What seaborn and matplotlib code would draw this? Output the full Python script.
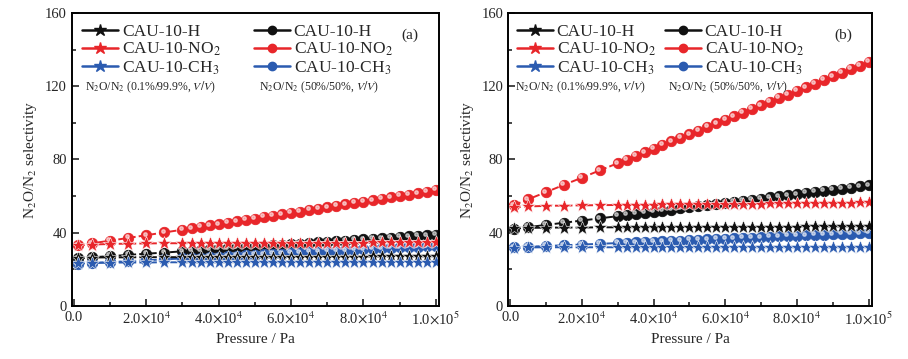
import numpy as np
import pandas as pd
import matplotlib
matplotlib.use("Agg")
import matplotlib.pyplot as plt
import matplotlib.transforms as mtransforms
from matplotlib.lines import Line2D
import seaborn as sns

# pressure points (Pa)
pressure = [1000, 5000, 10000, 15000, 20000, 25000, 30000, 32500, 35000, 37500,
            40000, 42500, 45000, 47500, 50000, 52500, 55000, 57500, 60000, 62500,
            65000, 67500, 70000, 72500, 75000, 77500, 80000, 82500, 85000, 87500,
            90000, 92500, 95000, 97500, 100000]

# (a) stars: N2O/N2 0.1%/99.9%
a_h_low = [26.3, 26.4, 26.5, 26.5, 26.6, 26.6, 26.6, 26.6, 26.6, 26.7, 26.7, 26.7,
           26.7, 26.7, 26.7, 26.8, 26.8, 26.8, 26.8, 26.8, 26.8, 26.9, 26.9, 26.9,
           26.9, 26.9, 26.9, 27.0, 27.0, 27.0, 27.0, 27.0, 27.0, 27.1, 27.1]
a_no2_low = [33.2, 33.5, 33.8, 34.0, 34.1, 34.2, 34.2, 34.3, 34.3, 34.3, 34.3, 34.4,
             34.4, 34.4, 34.4, 34.4, 34.5, 34.5, 34.5, 34.5, 34.5, 34.5, 34.6, 34.6,
             34.6, 34.6, 34.6, 34.7, 34.7, 34.7, 34.7, 34.7, 34.8, 34.8, 34.8]
a_ch3_low = [23.3, 23.5, 23.6, 23.7, 23.7, 23.8, 23.8, 23.8, 23.8, 23.8, 23.8, 23.9,
             23.9, 23.9, 23.9, 23.9, 23.9, 23.9, 24.0, 24.0, 24.0, 24.0, 24.0, 24.0,
             24.0, 24.0, 24.1, 24.1, 24.1, 24.1, 24.1, 24.1, 24.1, 24.1, 24.2]
# (a) circles: N2O/N2 50%/50%
a_h_high = [26.0, 26.5, 27.2, 27.8, 28.5, 29.1, 29.8, 30.1, 30.4, 30.8, 31.1, 31.4,
            31.7, 32.1, 32.4, 32.7, 33.0, 33.4, 33.7, 34.0, 34.3, 34.7, 35.0, 35.3,
            35.6, 36.0, 36.3, 36.6, 36.9, 37.3, 37.6, 37.9, 38.2, 38.6, 38.9]
a_no2_high = [33.0, 34.2, 35.6, 37.1, 38.6, 40.1, 41.6, 42.4, 43.1, 43.9, 44.6, 45.4,
              46.2, 46.9, 47.7, 48.5, 49.2, 50.0, 50.8, 51.5, 52.3, 53.1, 53.8, 54.6,
              55.4, 56.1, 56.9, 57.7, 58.4, 59.2, 60.0, 60.8, 61.5, 62.3, 63.5]
a_ch3_high = [23.0, 23.4, 23.9, 24.4, 24.9, 25.4, 25.9, 26.1, 26.4, 26.6, 26.9, 27.1,
              27.4, 27.6, 27.9, 28.1, 28.4, 28.6, 28.9, 29.1, 29.4, 29.6, 29.9, 30.1,
              30.4, 30.6, 30.9, 31.1, 31.4, 31.6, 31.9, 32.1, 32.4, 32.6, 32.9]

# (b) stars
b_h_low = [42.5, 42.6, 42.7, 42.8, 42.8, 42.9, 42.9, 42.9, 43.0, 43.0, 43.0, 43.0,
           43.1, 43.1, 43.1, 43.1, 43.1, 43.2, 43.2, 43.2, 43.2, 43.2, 43.3, 43.3,
           43.3, 43.3, 43.3, 43.4, 43.4, 43.4, 43.4, 43.4, 43.5, 43.5, 43.5]
b_no2_low = [54.0, 54.3, 54.6, 54.8, 54.9, 55.0, 55.1, 55.2, 55.2, 55.3, 55.3, 55.4,
             55.4, 55.5, 55.5, 55.6, 55.6, 55.7, 55.7, 55.8, 55.8, 55.9, 55.9, 56.0,
             56.0, 56.1, 56.1, 56.2, 56.2, 56.3, 56.3, 56.4, 56.4, 56.5, 56.5]
b_ch3_low = [31.8, 31.9, 32.0, 32.0, 32.0, 32.0, 32.0, 32.0, 32.0, 32.0, 32.0, 32.0,
             32.0, 32.0, 32.0, 32.0, 32.0, 32.0, 32.0, 32.0, 32.0, 32.0, 32.0, 32.0,
             32.0, 32.0, 32.0, 32.0, 32.0, 32.0, 32.0, 32.0, 32.0, 32.0, 32.0]
# (b) circles
b_h_high = [42.0, 43.0, 44.2, 45.4, 46.6, 47.8, 49.0, 49.6, 50.2, 50.8, 51.4, 52.0,
            52.6, 53.2, 53.8, 54.4, 55.0, 55.6, 56.2, 56.8, 57.4, 58.0, 58.6, 59.2,
            59.8, 60.4, 61.0, 61.6, 62.2, 62.8, 63.4, 64.0, 64.6, 65.2, 65.8]
b_no2_high = [55.0, 58.2, 62.1, 66.1, 70.0, 74.0, 77.9, 79.9, 81.9, 83.9, 85.8, 87.8,
              89.8, 91.8, 93.7, 95.7, 97.7, 99.7, 101.6, 103.6, 105.6, 107.6, 109.5,
              111.5, 113.5, 115.4, 117.4, 119.4, 121.4, 123.3, 125.3, 127.3, 129.3,
              131.2, 133.2]
b_ch3_high = [32.0, 32.3, 32.7, 33.1, 33.5, 33.9, 34.3, 34.5, 34.7, 34.9, 35.1, 35.3,
              35.5, 35.7, 35.9, 36.1, 36.3, 36.5, 36.7, 36.9, 37.1, 37.3, 37.5, 37.7,
              37.9, 38.1, 38.3, 38.5, 38.7, 38.9, 39.1, 39.3, 39.5, 39.7, 39.9]

names = ["CAU-10-H", "CAU-10-NO$_2$", "CAU-10-CH$_3$"]
colors = ["#111111", "#e8262a", "#2b5bb0"]
xticks = [0, 20000, 40000, 60000, 80000, 100000]
xtick_labels = ["0.0", r"2.0$\times$10$^4$", r"4.0$\times$10$^4$",
                r"6.0$\times$10$^4$", r"8.0$\times$10$^4$", r"1.0$\times$10$^5$"]
yticks = [0, 40, 80, 120, 160]

sns.set_style("ticks")
plt.rcParams["font.family"] = ["Liberation Serif", "DejaVu Serif"]
plt.rcParams["mathtext.fontset"] = "stix"

fig = plt.figure(figsize=(9.08, 3.59), dpi=100)
ax_a = fig.add_axes([0.079, 0.148, 0.405, 0.816])
ax_b = fig.add_axes([0.5595, 0.148, 0.401, 0.816])

# panel, tag, star series, circle series, legend column x, note column x
panels = [
    (ax_a, "(a)", [a_h_low, a_no2_low, a_ch3_low], [a_h_high, a_no2_high, a_ch3_high],
     (0.028, 0.495), (0.035, 0.51)),
    (ax_b, "(b)", [b_h_low, b_no2_low, b_ch3_low], [b_h_high, b_no2_high, b_ch3_high],
     (0.024, 0.43), (0.02, 0.44)),
]

for ax, tag, lows, highs, legx, notex in panels:
    # circles first so stars sit on top where they overlap
    for vals, col in zip(highs, colors):
        df = pd.DataFrame({"p": pressure, "s": vals})
        sns.lineplot(data=df, x="p", y="s", ax=ax, color=col, linestyle="--",
                     linewidth=1.4, marker="o", markersize=7.5,
                     markeredgecolor=col, markeredgewidth=0.6, legend=False)
        # small highlight to mimic the shaded spheres
        shift = mtransforms.offset_copy(ax.transData, fig=fig, x=-1.2, y=1.2, units="points")
        ax.plot(pressure, vals, linestyle="none", marker="o", markersize=2.5,
                color="white", alpha=0.55, transform=shift)
    for vals, col in zip(lows, colors):
        df = pd.DataFrame({"p": pressure, "s": vals})
        sns.lineplot(data=df, x="p", y="s", ax=ax, color=col, linestyle="--",
                     linewidth=1.4, marker="*", markersize=10,
                     markeredgecolor="white", markeredgewidth=0.4, legend=False)

    ax.set_xlim(-600, 101000)
    ax.set_ylim(0, 160)
    ax.set_xticks(xticks)
    ax.set_xticklabels(xtick_labels)
    ax.set_xticks([10000, 30000, 50000, 70000, 90000], minor=True)
    ax.set_yticks(yticks)
    ax.set_yticks([20, 60, 100, 140], minor=True)
    ax.tick_params(which="both", direction="in", labelsize=10.5, width=1.2)
    ax.tick_params(which="major", length=5)
    ax.tick_params(which="minor", length=3)
    for sp in ax.spines.values():
        sp.set_linewidth(1.4)
        sp.set_color("black")
    ax.set_xlabel("Pressure / Pa", fontsize=11)
    ax.set_ylabel("N$_2$O/N$_2$ selectivity", fontsize=11)

    star_h = [Line2D([], [], color=c, linewidth=1.8, marker="*", markersize=9, label=n)
              for c, n in zip(colors, names)]
    circ_h = [Line2D([], [], color=c, linewidth=1.8, marker="o", markersize=6, label=n)
              for c, n in zip(colors, names)]
    leg_kw = dict(loc="upper left", frameon=False, fontsize=12.5, handlelength=2.1,
                  handletextpad=0.2, labelspacing=0.05, borderpad=0, borderaxespad=0)
    leg1 = ax.legend(handles=star_h, bbox_to_anchor=(legx[0], 0.962), **leg_kw)
    ax.add_artist(leg1)
    ax.legend(handles=circ_h, bbox_to_anchor=(legx[1], 0.962), **leg_kw)

    ax.text(notex[0], 0.745, "N$_2$O/N$_2$ (0.1%/99.9%, $V/V$)", transform=ax.transAxes,
            fontsize=8.5, ha="left", va="center")
    ax.text(notex[1], 0.745, "N$_2$O/N$_2$ (50%/50%, $V/V$)", transform=ax.transAxes,
            fontsize=8.5, ha="left", va="center")
    ax.text(0.92, 0.925, tag, transform=ax.transAxes, fontsize=11, ha="center", va="center")

fig.savefig("out.png", dpi=100)
